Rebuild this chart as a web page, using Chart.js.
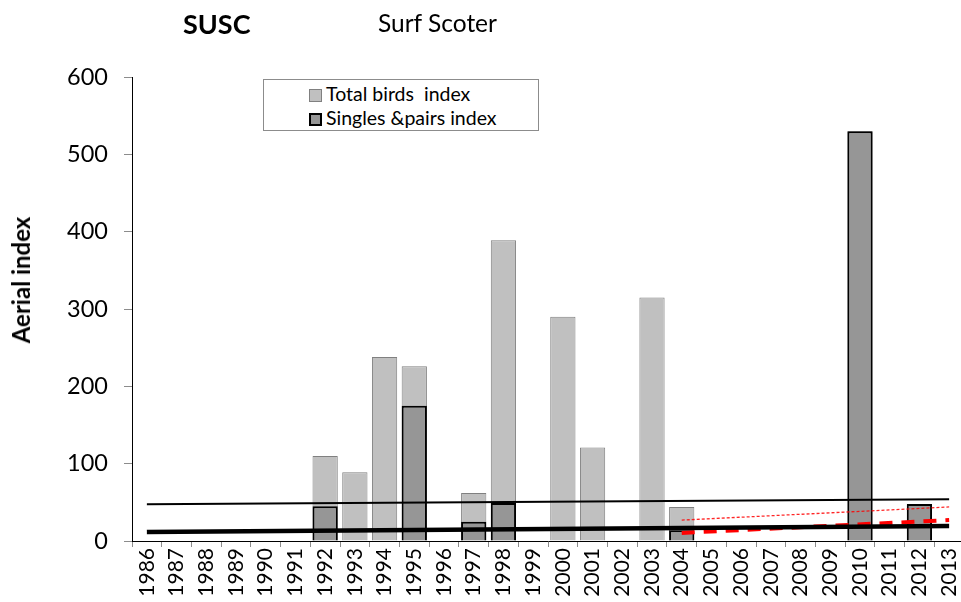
<!DOCTYPE html>
<html>
<head>
<meta charset="utf-8">
<script src="https://cdn.jsdelivr.net/npm/chart.js@4/dist/chart.umd.min.js"></script>
<style>
  html, body { margin: 0; padding: 0; background: #fff; overflow: hidden; }
  #wrap { position: relative; width: 961px; height: 602px; overflow: hidden; font-family: Lato, "Noto Sans", sans-serif; }
  #chart { position: absolute; left: 0; top: 0; }
  .t { position: absolute; color: #000; white-space: pre; line-height: 1; }
  #code { left: 183px; top: 10px; font-size: 27px; font-weight: bold; }
  #name { left: 378px; top: 11px; font-size: 24.5px; }
  #ytitle { left: 21px; top: 280px; font-size: 24px; font-weight: bold; transform: translate(-50%, -50%) rotate(-90deg); }
  #legend { position: absolute; left: 263px; top: 79px; width: 274px; height: 50px; border: 1px solid #8c8c8c; background: #fff; }
  .item { position: absolute; left: 45px; font-size: 19.5px; line-height: 1; white-space: pre; }
  .item i { display: inline-block; width: 13px; height: 13px; margin-right: 4px; vertical-align: -1px; box-sizing: border-box; }
</style>
</head>
<body>
<div id="wrap">
  <canvas id="chart" width="964" height="602"></canvas>
  <div class="t" id="code">SUSC</div>
  <div class="t" id="name">Surf Scoter</div>
  <div class="t" id="ytitle">Aerial index</div>
  <div id="legend"></div>
</div>
<script>
// Dados
const years = ['1986','1987','1988','1989','1990','1991','1992','1993','1994','1995','1996','1997','1998','1999',
               '2000','2001','2002','2003','2004','2005','2006','2007','2008','2009','2010','2011','2012','2013'];

const totalBirds = [null,null,null,null,null,null,110,89,238,226,null,62,389,null,
                    290,121,null,315,44,null,null,null,null,null,530,null,47,null];

const singlesPairs = [null,null,null,null,null,null,45,null,null,175,null,25,49,null,
                      null,null,null,null,14,null,null,null,null,null,530,null,48,null];

// Linhas de tendência (só os extremos)
const trendTotal = [47.5,null,null,null,null,null,null,null,null,null,null,null,null,null,
                    null,null,null,null,null,null,null,null,null,null,null,null,null,54];
const trendSingles = [11.5,null,null,null,null,null,null,null,null,null,null,null,null,null,
                      null,null,null,null,null,null,null,null,null,null,null,null,null,19.5];
const trendTotalRecent = [null,null,null,null,null,null,null,null,null,null,null,null,null,null,
                          null,null,null,null,27,null,null,null,null,null,null,null,null,44];
const trendSinglesRecent = [null,null,null,null,null,null,null,null,null,null,null,null,null,null,
                            null,null,null,null,10.5,null,null,null,null,null,null,null,null,27];

const yTicks = [0, 100, 200, 300, 400, 500, 600];

const LABEL_TOTAL = 'Total birds  index';
const LABEL_SINGLES = 'Singles &pairs index';

// Legend (HTML)
const legendEl = document.getElementById('legend');
legendEl.innerHTML = `
  <div class="item" style="top:4px"><i style="background:#c0c0c0;border:1px solid #808080"></i>${LABEL_TOTAL}</div>
  <div class="item" style="top:28px"><i style="background:#969696;border:2px solid #000"></i>${LABEL_SINGLES.replace('&', '&amp;')}</div>
`;

const font = 'Lato, "Noto Sans", sans-serif';

function trendLine(data, color, width, dash) {
    return {
        type: 'line',
        data: data,
        borderColor: color,
        borderWidth: width,
        borderDash: dash,
        pointRadius: 0,
        spanGaps: true,
        fill: false,
        order: 0
    };
}

const ctx = document.getElementById('chart').getContext('2d');
new Chart(ctx, {
    type: 'bar',
    data: {
        labels: years,
        datasets: [
            {
                label: LABEL_TOTAL,
                data: totalBirds,
                backgroundColor: '#c0c0c0',
                borderColor: '#808080',
                borderWidth: 1,
                grouped: false,
                barPercentage: 0.85,
                categoryPercentage: 1,
                order: 2
            },
            {
                label: LABEL_SINGLES,
                data: singlesPairs,
                backgroundColor: '#969696',
                borderColor: '#000000',
                borderWidth: 2,
                grouped: false,
                barPercentage: 0.85,
                categoryPercentage: 1,
                order: 1
            },
            trendLine(trendTotal, '#000000', 2, []),
            trendLine(trendSingles, '#000000', 4.5, []),
            trendLine(trendTotalRecent, 'rgba(255,0,0,0.85)', 1.3, [3, 2]),
            trendLine(trendSinglesRecent, '#ff0000', 4, [13, 9])
        ]
    },
    options: {
        responsive: false,
        animation: false,
        devicePixelRatio: 1,
        layout: { padding: { top: 77, right: 0, left: 0, bottom: 0 } },
        plugins: {
            legend: { display: false },
            tooltip: { enabled: false }
        },
        scales: {
            x: {
                offset: true,
                grid: { offset: true, drawOnChartArea: false, color: '#8c8c8c', tickLength: 6 },
                border: { color: '#000', width: 1 },
                ticks: {
                    color: '#000',
                    font: { family: font, size: 21 },
                    maxRotation: 90,
                    minRotation: 90,
                    autoSkip: false,
                    padding: 1
                },
                afterFit: (scale) => {
                    scale.height = 61;
                    scale.paddingLeft = 0;
                    scale.paddingRight = 0;
                }
            },
            y: {
                min: 0,
                max: 600,
                grid: { drawOnChartArea: false, color: '#8c8c8c', tickLength: 8 },
                border: { color: '#000', width: 1 },
                afterBuildTicks: (scale) => {
                    scale.ticks = yTicks.map(v => ({ value: v }));
                },
                ticks: {
                    color: '#000',
                    font: { family: font, size: 23.5 },
                    padding: 16
                },
                afterFit: (scale) => {
                    scale.width = 132;
                    scale.paddingTop = 0;
                    scale.paddingBottom = 0;
                }
            }
        }
    }
});
</script>
</body>
</html>
